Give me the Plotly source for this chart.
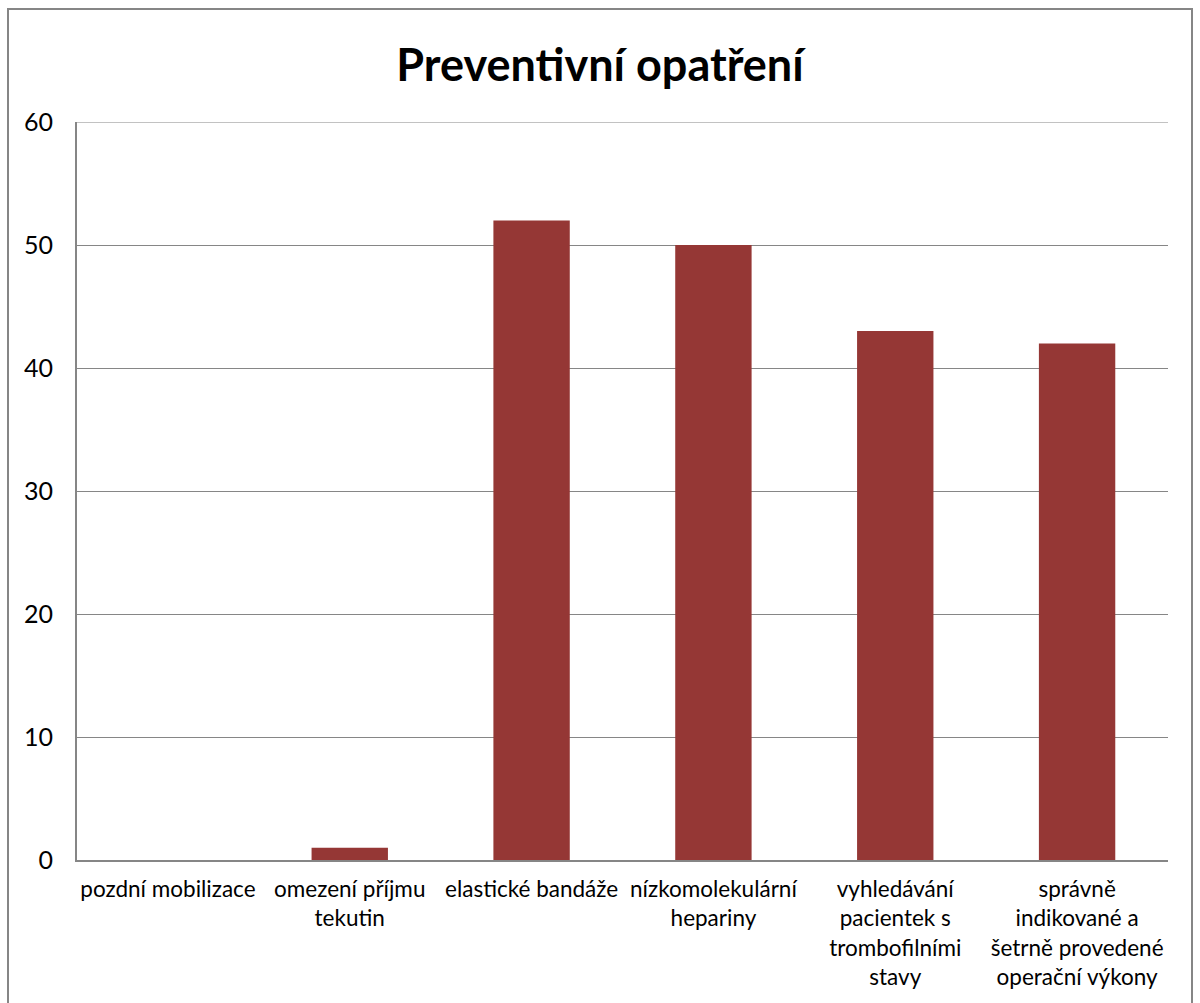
import plotly.graph_objects as go

categories = [
    "pozdní mobilizace",
    "omezení příjmu<br>tekutin",
    "elastické bandáže",
    "nízkomolekulární<br>hepariny",
    "vyhledávání<br>pacientek s<br>trombofilními<br>stavy",
    "správně<br>indikované a<br>šetrně provedené<br>operační výkony",
]
values = [0, 1, 52, 50, 43, 42]
y_ticks = [0, 10, 20, 30, 40, 50, 60]

L, R, T, B = 77, 32, 122, 143
W, H = 1200, 1003
pw, ph = W - L - R, H - T - B

fig = go.Figure(go.Bar(
    x=categories, y=values,
    marker=dict(color="#953735", line=dict(width=0)),
))

font = "Lato, 'Open Sans', sans-serif"
fig.update_layout(
    width=W, height=H,
    margin=dict(l=L, r=R, t=T, b=B),
    paper_bgcolor="white", plot_bgcolor="white",
    bargap=0.58,
    showlegend=False,
    title=dict(text="<b>Preventivní opatření</b>", x=0.5, xref="container", xanchor="center",
               y=1 - 65 / H, yanchor="middle",
               font=dict(family=font, size=45, color="#000000")),
    font=dict(family=font, size=22, color="#000000"),
    xaxis=dict(showgrid=False, showline=True, linecolor="#868686", linewidth=2,
               ticks="", tickfont=dict(size=22.5), ticklabelstandoff=8),
    yaxis=dict(range=[0, 60], tickvals=y_ticks, showgrid=True, gridcolor="#868686",
               gridwidth=1, showline=True, linecolor="#868686", linewidth=2,
               zeroline=False, ticks="", tickfont=dict(size=25), ticklabelstandoff=17),
    shapes=[
        dict(type="rect", xref="paper", yref="paper",
             x0=(8 - L) / pw, x1=(1192 - L) / pw,
             y0=(T + ph - 1010) / ph, y1=(T + ph - 9) / ph,
             line=dict(color="#868686", width=2), layer="below"),
        dict(type="line", xref="paper", yref="y", x0=0, x1=1, y0=y_ticks[-1], y1=y_ticks[-1],
             line=dict(color="#868686", width=1), layer="below"),
    ],
)

fig.write_html("out.html")
